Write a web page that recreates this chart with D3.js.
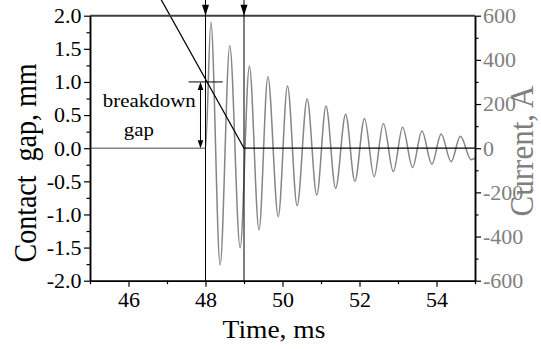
<!DOCTYPE html>
<html>
<head>
<meta charset="utf-8">
<script src="https://cdn.jsdelivr.net/npm/d3@7"></script>
<style>
  body { margin: 0; background: #fff; }
</style>
</head>
<body>
<div id="chart"></div>
<script>
// contact gap trace (mm)
const gapTimes = [46.85, 49.0, 55.0];
const gapValues = [2.24, 0, 0];

// current trace (A): flat until breakdown, then read peaks and troughs
const currentTimes = [45.0, 48.0,
  48.14, 48.38, 48.63, 48.90, 49.14, 49.39, 49.62, 49.89, 50.13, 50.38,
  50.64, 50.89, 51.13, 51.38, 51.64, 51.88, 52.13, 52.38, 52.62, 52.88,
  53.12, 53.38, 53.62, 53.88, 54.12, 54.38, 54.62, 54.90, 55.0];
const currentValues = [0, 0,
  570, -529, 464, -451, 372, -370, 324, -310, 282, -260,
  223, -212, 191, -182, 154, -150, 135, -129, 112, -106,
  95, -87, 78, -72, 64, -61, 54, -52, -45];

// event markers (ms)
const markerTimes = [48.0, 49.0];

const xTicks = [46, 48, 50, 52, 54];
const xMinor = [45, 47, 49, 51, 53, 55];
const yTicks = [-2, -1.5, -1, -0.5, 0, 0.5, 1, 1.5, 2];
const yTickLabels = ["-2.0", "-1.5", "-1.0", "-0.5", "0.0", "0.5", "1.0", "1.5", "2.0"];
const yMinor = [-1.75, -1.25, -0.75, -0.25, 0.25, 0.75, 1.25, 1.75];
const iTicks = [-600, -400, -200, 0, 200, 400, 600];
const iTickLabels = ["-600", "-400", "-200", "0", "200", "400", "600"];
const iMinor = [-500, -300, -100, 100, 300, 500];

const W = 541, H = 349;
const plotL = 90, plotR = 475, plotT = 15.7, plotB = 280.7;
const SX = 1.1; // text is a bit wider than plain Times
const FONT = '"Liberation Serif", "Times New Roman", serif';

const x = d3.scaleLinear().domain([45, 55]).range([plotL, plotR]);
const yGap = d3.scaleLinear().domain([-2, 2]).range([plotB, plotT]);
const yCur = d3.scaleLinear().domain([-600, 600]).range([plotB, plotT]);

const svg = d3.select("#chart").append("svg")
  .attr("width", W)
  .attr("height", H);

// current trace
const curData = currentTimes.map((t, i) => ({ t: t, v: currentValues[i] }));
svg.append("path")
  .datum(curData)
  .attr("fill", "none")
  .attr("stroke", "#858585")
  .attr("stroke-width", 1.5)
  .attr("d", d3.line().x(d => x(d.t)).y(d => yCur(d.v)).curve(d3.curveMonotoneX));

// contact gap trace
const gapData = gapTimes.map((t, i) => ({ t: t, v: gapValues[i] }));
svg.append("path")
  .datum(gapData)
  .attr("fill", "none")
  .attr("stroke", "#000")
  .attr("stroke-width", 1.3)
  .attr("d", d3.line().x(d => x(d.t)).y(d => yGap(d.v)));

// top frame
svg.append("line")
  .attr("x1", plotL).attr("x2", plotR)
  .attr("y1", plotT).attr("y2", plotT)
  .attr("stroke", "#404040")
  .attr("stroke-width", 2);

// marker lines with arrowheads at the top
markerTimes.forEach(t => {
  const mx = x(t);
  svg.append("line")
    .attr("x1", mx).attr("x2", mx)
    .attr("y1", 0).attr("y2", plotB)
    .attr("stroke", "#000")
    .attr("stroke-width", 1);
  svg.append("path")
    .attr("d", `M${mx},${plotT} L${mx - 3.5},${plotT - 11} L${mx + 3.5},${plotT - 11} Z`)
    .attr("fill", "#000");
});

// breakdown gap annotation
const bx = x(47.87);
svg.append("line")
  .attr("x1", x(47.56)).attr("x2", x(48.45))
  .attr("y1", yGap(1)).attr("y2", yGap(1))
  .attr("stroke", "#000").attr("stroke-width", 1);
svg.append("line")
  .attr("x1", bx).attr("x2", bx)
  .attr("y1", yGap(1) + 2).attr("y2", yGap(0) - 2)
  .attr("stroke", "#000").attr("stroke-width", 1);
svg.append("path")
  .attr("d", `M${bx},${yGap(1)} L${bx - 2.8},${yGap(1) + 8} L${bx + 2.8},${yGap(1) + 8} Z`)
  .attr("fill", "#000");
svg.append("path")
  .attr("d", `M${bx},${yGap(0)} L${bx - 2.8},${yGap(0) - 8} L${bx + 2.8},${yGap(0) - 8} Z`)
  .attr("fill", "#000");

function label(px, py, txt, size, anchor, fill, rot) {
  svg.append("text")
    .attr("transform", `translate(${px},${py}) scale(${SX},1)` + (rot ? " rotate(-90)" : ""))
    .attr("text-anchor", anchor)
    .style("font-family", FONT)
    .style("font-size", size + "px")
    .style("white-space", "pre")
    .attr("fill", fill)
    .text(txt);
}
label(x(46.54), yGap(0.62), "breakdown", 19, "middle", "#000");
label(x(46.27), yGap(0.18), "gap", 19, "middle", "#000");

// axes
function styleAxis(g) {
  g.attr("font-family", null);
  g.select(".domain").attr("stroke", "#000").attr("stroke-width", 1.5);
  g.selectAll(".tick line").attr("stroke", "#000").attr("stroke-width", 1.2);
}

function styleTicks(g, dx, dy, fill) {
  g.selectAll(".tick text")
    .attr("x", null).attr("y", null).attr("dy", null)
    .attr("transform", `translate(${dx},${dy}) scale(${SX},1)`)
    .attr("fill", fill)
    .style("font-family", FONT)
    .style("font-size", "20px");
}

// bottom axis
svg.append("g")
  .attr("transform", `translate(0,${plotB})`)
  .call(d3.axisBottom(x).tickValues(xMinor).tickSize(3.5).tickSizeOuter(0).tickFormat(""))
  .call(styleAxis);
const gx = svg.append("g")
  .attr("transform", `translate(0,${plotB})`)
  .call(d3.axisBottom(x).tickValues(xTicks).tickSize(6).tickSizeOuter(0).tickFormat(d3.format("d")))
  .call(styleAxis);
styleTicks(gx, 0, 26, "#000");

// left axis
svg.append("g")
  .attr("transform", `translate(${plotL},0)`)
  .call(d3.axisLeft(yGap).tickValues(yMinor).tickSize(3.5).tickSizeOuter(0).tickFormat(""))
  .call(styleAxis);
const gy = svg.append("g")
  .attr("transform", `translate(${plotL},0)`)
  .call(d3.axisLeft(yGap).tickValues(yTicks).tickSize(6).tickSizeOuter(0)
    .tickFormat((d, i) => yTickLabels[i]))
  .call(styleAxis);
styleTicks(gy, -8.5, 6.8, "#000");

// right axis
svg.append("g")
  .attr("transform", `translate(${plotR},0)`)
  .call(d3.axisRight(yCur).tickValues(iMinor).tickSize(3.5).tickSizeOuter(0).tickFormat(""))
  .call(styleAxis);
const gr = svg.append("g")
  .attr("transform", `translate(${plotR},0)`)
  .call(d3.axisRight(yCur).tickValues(iTicks).tickSize(6).tickSizeOuter(0)
    .tickFormat((d, i) => iTickLabels[i]))
  .call(styleAxis);
styleTicks(gr, 8, 6.8, "#808080");

// axis titles
label(274, 338.3, "Time, ms", 25, "middle", "#000");
label(36, 163, "Contact  gap, mm", 28, "middle", "#000", true);
label(533, 151, "Current, A", 31, "middle", "#808080", true);
</script>
</body>
</html>
